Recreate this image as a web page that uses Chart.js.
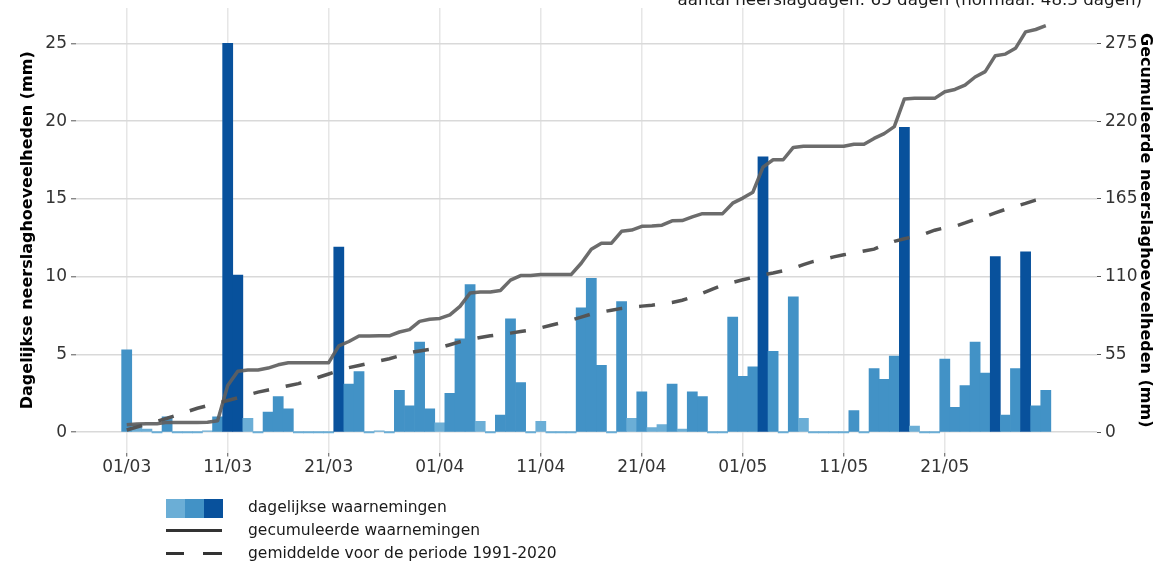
<!DOCTYPE html>
<html>
<head>
<meta charset="utf-8">
<script src="https://cdn.jsdelivr.net/npm/chart.js@4"></script>
<style>
  html, body { margin: 0; padding: 0; background: #ffffff; overflow: hidden; }
  body { width: 1158px; height: 563px; position: relative; font-family: 'DejaVu Sans', sans-serif; }
  #c { position: absolute; left: 0; top: 0; }
  .title { position: absolute; right: 16px; top: -11.4px; font-size: 16.7px; line-height: 20px; color: #1a1a1a; white-space: nowrap; }
  .lg-text { position: absolute; left: 248px; font-size: 15.5px; line-height: 20px; color: #1a1a1a; white-space: nowrap; }
  .sq { position: absolute; top: 499px; width: 19px; height: 19px; }
  .ln { position: absolute; height: 3px; background: #333333; }
</style>
</head>
<body>
<canvas id="c" width="1158" height="563"></canvas>
<div class="title">aantal neerslagdagen: 65 dagen (normaal: 48.3 dagen)</div>

<div class="sq" style="left:166px;background:#6baed6"></div>
<div class="sq" style="left:185px;background:#4292c6"></div>
<div class="sq" style="left:204px;background:#08519c"></div>
<div class="lg-text" style="top:497px">dagelijkse waarnemingen</div>

<div class="ln" style="left:166px;width:56px;top:529px"></div>
<div class="lg-text" style="top:520px">gecumuleerde waarnemingen</div>

<div class="ln" style="left:166px;width:18px;top:552px"></div>
<div class="ln" style="left:203px;width:19px;top:552px"></div>
<div class="lg-text" style="top:543px">gemiddelde voor de periode 1991-2020</div>

<script>
// ---- data ----
const dates = [
  "01/03","02/03","03/03","04/03","05/03","06/03","07/03","08/03","09/03","10/03",
  "11/03","12/03","13/03","14/03","15/03","16/03","17/03","18/03","19/03","20/03",
  "21/03","22/03","23/03","24/03","25/03","26/03","27/03","28/03","29/03","30/03","31/03",
  "01/04","02/04","03/04","04/04","05/04","06/04","07/04","08/04","09/04","10/04",
  "11/04","12/04","13/04","14/04","15/04","16/04","17/04","18/04","19/04","20/04",
  "21/04","22/04","23/04","24/04","25/04","26/04","27/04","28/04","29/04","30/04",
  "01/05","02/05","03/05","04/05","05/05","06/05","07/05","08/05","09/05","10/05",
  "11/05","12/05","13/05","14/05","15/05","16/05","17/05","18/05","19/05","20/05",
  "21/05","22/05","23/05","24/05","25/05","26/05","27/05","28/05","29/05","30/05","31/05"
];

// daily precipitation (mm)
const daily = [
  5.3,0.5,0.2,0,1.0,0,0,0,0.1,1.0,
  25.0,10.1,0.9,0,1.3,2.3,1.5,0,0,0,
  0,11.9,3.1,3.9,0,0.1,0,2.7,1.7,5.8,
  1.5,0.6,2.5,6.0,9.5,0.7,0,1.1,7.3,3.2,
  0,0.7,0,0,0,8.0,9.9,4.3,0,8.4,
  0.9,2.6,0.3,0.5,3.1,0.2,2.6,2.3,0,0,
  7.4,3.6,4.2,17.7,5.2,0,8.7,0.9,0,0,
  0,0,1.4,0,4.1,3.4,4.9,19.6,0.4,0,
  0,4.7,1.6,3.0,5.8,3.8,11.3,1.1,4.1,11.6,
  1.7,2.7
];

// cumulative observations (mm)
const cumulative = [
  5.3,5.8,6.0,6.0,7.0,7.0,7.0,7.0,7.1,8.1,
  33.1,43.2,44.1,44.1,45.4,47.7,49.2,49.2,49.2,49.2,
  49.2,61.1,64.2,68.1,68.1,68.2,68.2,70.9,72.6,78.4,
  79.9,80.5,83.0,89.0,98.5,99.2,99.2,100.3,107.6,110.8,
  110.8,111.5,111.5,111.5,111.5,119.5,129.4,133.7,133.7,142.1,
  143.0,145.6,145.9,146.4,149.5,149.7,152.3,154.6,154.6,154.6,
  162.0,165.6,169.8,187.5,192.7,192.7,201.4,202.3,202.3,202.3,
  202.3,202.3,203.7,203.7,207.8,211.2,216.1,235.7,236.1,236.1,
  236.1,240.8,242.4,245.4,251.2,255.0,266.3,267.4,271.5,283.1,
  284.8,287.5
];

// cumulative normal 1991-2020 (mm)
const normal = [
  1.6,3.7,5.8,7.8,9.9,12.2,14.6,17.0,18.8,20.6,
  22.5,24.4,26.5,28.4,29.9,31.4,32.9,34.4,36.6,38.9,
  41.2,43.6,45.7,47.2,48.8,50.5,52.0,54.0,56.3,57.5,
  58.6,59.8,61.9,64.0,65.6,67.0,68.2,69.1,70.1,71.2,
  72.2,73.9,75.7,77.4,79.3,81.4,83.6,85.0,86.3,87.6,
  88.4,89.2,89.8,90.8,91.8,93.4,95.6,98.4,101.3,104.0,
  106.0,107.8,109.5,111.2,112.6,114.2,115.9,118.5,120.8,122.2,
  124.0,125.5,126.8,128.2,129.5,132.5,135.0,136.8,138.5,140.2,
  142.9,144.6,145.6,148.0,150.6,152.6,155.1,157.6,159.7,161.8,
  164.2,166.0
];

const xTickLabels = ["01/03","11/03","21/03","01/04","11/04","21/04","01/05","11/05","21/05"];
const yLeftTicks = [0, 5, 10, 15, 20, 25];
const yRightTicks = [0, 55, 110, 165, 220, 275];

// ---- styling ----
const LIGHT = '#6baed6', MEDIUM = '#4292c6', DARK = '#08519c';
const xTickPos = xTickLabels.map(l => dates.indexOf(l));
const barColors = daily.map(v => v >= 10 ? DARK : (v >= 1 ? MEDIUM : LIGHT));

Chart.defaults.font.family = "'DejaVu Sans', sans-serif";
Chart.defaults.color = '#333333';

const chart = new Chart(document.getElementById('c'), {
  data: {
    datasets: [
      {
        type: 'line',
        label: 'gemiddelde voor de periode 1991-2020',
        data: normal.map((v, i) => ({ x: i, y: v })),
        yAxisID: 'y1',
        borderColor: '#555555',
        borderWidth: 3.5,
        borderDash: [16, 17],
        pointRadius: 0,
        tension: 0,
        order: 1
      },
      {
        type: 'line',
        label: 'gecumuleerde waarnemingen',
        data: cumulative.map((v, i) => ({ x: i, y: v })),
        yAxisID: 'y1',
        borderColor: 'rgba(95,95,95,0.92)',
        borderWidth: 3.5,
        borderJoinStyle: 'round',
        borderCapStyle: 'butt',
        pointRadius: 0,
        tension: 0,
        order: 2
      },
      {
        type: 'bar',
        label: 'dagelijkse waarnemingen',
        data: daily.map((v, i) => ({ x: i, y: v })),
        yAxisID: 'y',
        backgroundColor: barColors,
        borderWidth: 0,
        barPercentage: 1.0,
        categoryPercentage: 1.0,
        minBarLength: 1.5,
        order: 3
      }
    ]
  },
  options: {
    responsive: false,
    animation: false,
    devicePixelRatio: 1,
    layout: { padding: { top: 8, left: 0, right: 0, bottom: 0 } },
    plugins: { legend: { display: false }, tooltip: { enabled: false }, title: { display: false } },
    scales: {
      x: {
        type: 'linear',
        offset: false,
        min: -5.02,
        max: 96.07,
        afterBuildTicks: s => { s.ticks = xTickPos.map(v => ({ value: v })); },
        afterFit: s => { s.height = 110.5; s.paddingLeft = 0; s.paddingRight = 0; },
        ticks: {
          autoSkip: false,
          maxRotation: 0,
          padding: 1,
          color: '#333333',
          font: { size: 17 },
          callback: v => xTickLabels[xTickPos.indexOf(v)]
        },
        grid: { offset: false, color: '#e6e6e6', lineWidth: 1.5, tickLength: 4, tickColor: '#555555', tickWidth: 1 },
        border: { display: false }
      },
      y: {
        type: 'linear',
        position: 'left',
        min: -1.3,
        max: 300 / 11,
        afterBuildTicks: s => { s.ticks = yLeftTicks.map(v => ({ value: v })); },
        afterFit: s => { s.width = 76; s.paddingTop = 0; s.paddingBottom = 0; },
        ticks: { padding: 4, color: '#333333', font: { size: 17 } },
        grid: { color: '#d9d9d9', lineWidth: 1.6, tickLength: 5, tickColor: '#555555', tickWidth: 1 },
        border: { display: false },
        title: {
          display: true,
          text: 'Dagelijkse neerslaghoeveelheden (mm)',
          color: '#000000',
          font: { size: 16, weight: 'bold' },
          padding: { top: 18.4, bottom: 0 }
        }
      },
      y1: {
        type: 'linear',
        position: 'right',
        min: -14.3,
        max: 300,
        afterBuildTicks: s => { s.ticks = yRightTicks.map(v => ({ value: v })); },
        afterFit: s => { s.width = 61; s.paddingTop = 0; s.paddingBottom = 0; },
        ticks: { padding: 4, color: '#333333', font: { size: 17 } },
        grid: { drawOnChartArea: false, tickLength: 4, tickColor: '#555555', tickWidth: 1 },
        border: { display: false },
        title: {
          display: true,
          text: 'Gecumuleerde neerslaghoeveelheden (mm)',
          color: '#000000',
          font: { size: 16, weight: 'bold' },
          padding: { top: 3.4, bottom: 0 }
        }
      }
    }
  }
});
</script>
</body>
</html>
